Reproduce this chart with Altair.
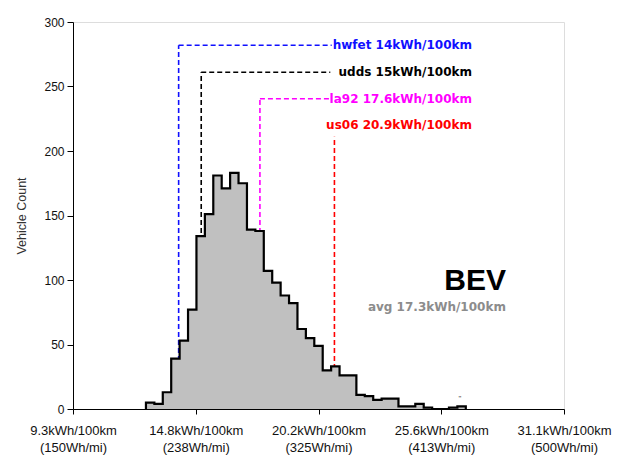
import altair as alt
import pandas as pd

# Histogram (x in Wh/mi, bins of 6 Wh/mi starting at 202)
bin_start = 202
bin_width = 6
counts = [5, 4, 13, 39, 53, 77, 134, 151, 181, 171, 183, 175, 139, 138, 107, 98, 88, 82,
          62, 55, 49, 30, 33, 26, 26, 11, 10, 7, 8, 8, 2, 2, 4, 1, 0, 0, 1, 2]

# Drive-cycle annotations
cycles = ["hwfet", "udds", "la92", "us06"]
cycle_kwh = [14.0, 15.0, 17.6, 20.9]
cycle_label = ["hwfet 14kWh/100km", "udds 15kWh/100km", "la92 17.6kWh/100km", "us06 20.9kWh/100km"]
cycle_level = [282, 261, 240.5, 211]
cycle_text_level = [282, 261, 240.5, 220]
cycle_colors = ["#1010ff", "#000000", "#ff00ff", "#ff0000"]
cycle_hline = [True, True, True, False]
hline_end = [334.4, 333.4, 332.6, 0]
label_right = 434.4

avg_label = "avg 17.3kWh/100km"
title_text = "BEV"
mark_x = [425.8]
mark_y = [8]
mark_text = ['"']

tick_vals = [150, 237.5, 325, 412.5, 500]
tick_top = ["9.3kWh/100km", "14.8kWh/100km", "20.2kWh/100km", "25.6kWh/100km", "31.1kWh/100km"]
tick_bot = ["(150Wh/mi)", "(238Wh/mi)", "(325Wh/mi)", "(413Wh/mi)", "(500Wh/mi)"]


def kwh_to_whmi(v):
    return v * 10 * 1.609344


# step data for outline (with a leading baseline point)
rows = [{"i": 0, "x": bin_start, "c": 0}]
for k, c in enumerate(counts):
    rows.append({"i": k + 1, "x": bin_start + bin_width * k, "c": c})
rows.append({"i": len(counts) + 1, "x": bin_start + bin_width * len(counts), "c": 0})
hist = pd.DataFrame(rows)
# area data (no duplicate x)
area_df = hist.iloc[1:].reset_index(drop=True)

vr = pd.DataFrame({
    "x": [kwh_to_whmi(v) for v in cycle_kwh],
    "y": [0] * 4,
    "y2": cycle_level,
    "col": cycle_colors,
})
hr = pd.DataFrame({
    "x": [kwh_to_whmi(v) for v, h in zip(cycle_kwh, cycle_hline) if h],
    "x2": [e for e, h in zip(hline_end, cycle_hline) if h],
    "y": [l for l, h in zip(cycle_level, cycle_hline) if h],
    "col": [c for c, h in zip(cycle_colors, cycle_hline) if h],
})
tx = pd.DataFrame({
    "x": [label_right] * 4,
    "y": cycle_text_level,
    "t": cycle_label,
    "col": cycle_colors,
})

label_expr = " : ".join(
    f"datum.value == {v} ? ['{a}', '{b}']" for v, a, b in zip(tick_vals, tick_top, tick_bot)
) + " : ''"

xscale = alt.Scale(domain=[150, 500], nice=False, zero=False)
yscale = alt.Scale(domain=[0, 300], nice=False)

base_x = alt.X("x:Q", scale=xscale, axis=alt.Axis(
    values=tick_vals, labelExpr=label_expr, title=None, grid=False,
    tickSize=5, labelPadding=10, labelFontSize=13, labelFont="Liberation Sans",
    labelColor="#111", labelLineHeight=17, domainColor="#000", tickColor="#000",
    labelFlush=False, labelOverlap=False))

vrules = alt.Chart(vr).mark_rule(strokeDash=[5, 3], strokeWidth=1.6).encode(
    x=base_x,
    y=alt.Y("y:Q", scale=yscale, axis=alt.Axis(
        values=[0, 50, 100, 150, 200, 250, 300], title="Vehicle Count", grid=False,
        tickSize=6, labelPadding=3, labelFontSize=12, labelFont="Liberation Sans",
        labelColor="#111", titleFont="Liberation Sans", titleFontSize=12.5,
        titleFontWeight="normal", titleColor="#333", titlePadding=15,
        domainColor="#000", tickColor="#000")),
    y2="y2:Q",
    color=alt.Color("col:N", scale=None),
)
hrules = alt.Chart(hr).mark_rule(strokeDash=[5, 3], strokeWidth=1.6).encode(
    x="x:Q", x2="x2:Q", y="y:Q", color=alt.Color("col:N", scale=None))

area = alt.Chart(area_df).mark_area(interpolate="step-after", color="#c0c0c0", opacity=1,
                                    strokeWidth=0).encode(
    x="x:Q", y=alt.Y("c:Q", stack=None))
line = alt.Chart(hist).mark_line(interpolate="step-after", color="#000", strokeWidth=2.2).encode(
    x="x:Q", y="c:Q", order="i:Q")

labels = alt.Chart(tx).mark_text(align="right", baseline="middle", font="DejaVu Sans",
                                 fontSize=12, fontWeight="bold").encode(
    x="x:Q", y="y:Q", text="t:N", color=alt.Color("col:N", scale=None))

bev = alt.Chart(pd.DataFrame({"x": [458.6], "y": [92.5], "t": [title_text]})).mark_text(
    align="right", baseline="alphabetic", font="Liberation Sans", fontSize=30,
    fontWeight="bold", color="#000").encode(x="x:Q", y="y:Q", text="t:N")
avg = alt.Chart(pd.DataFrame({"x": [458.6], "y": [76], "t": [avg_label]})).mark_text(
    align="right", baseline="alphabetic", font="DejaVu Sans", fontSize=12,
    fontWeight="bold", color="#8c8c8c").encode(x="x:Q", y="y:Q", text="t:N")
tiny = alt.Chart(pd.DataFrame({"x": mark_x, "y": mark_y, "t": mark_text})).mark_text(
    align="center", baseline="middle", font="Liberation Sans", fontSize=8,
    color="#444").encode(x="x:Q", y="y:Q", text="t:N")

chart = alt.layer(vrules, hrules, area, line, labels, bev, avg, tiny).properties(
    width=491, height=387,
    autosize=alt.AutoSizeParams(type="none"),
    padding={"left": 65, "top": 14, "right": 60, "bottom": 48},
).configure_view(stroke=None).configure(background="white")

chart.save("out.html", embed_options={"renderer": "svg", "actions": False})
